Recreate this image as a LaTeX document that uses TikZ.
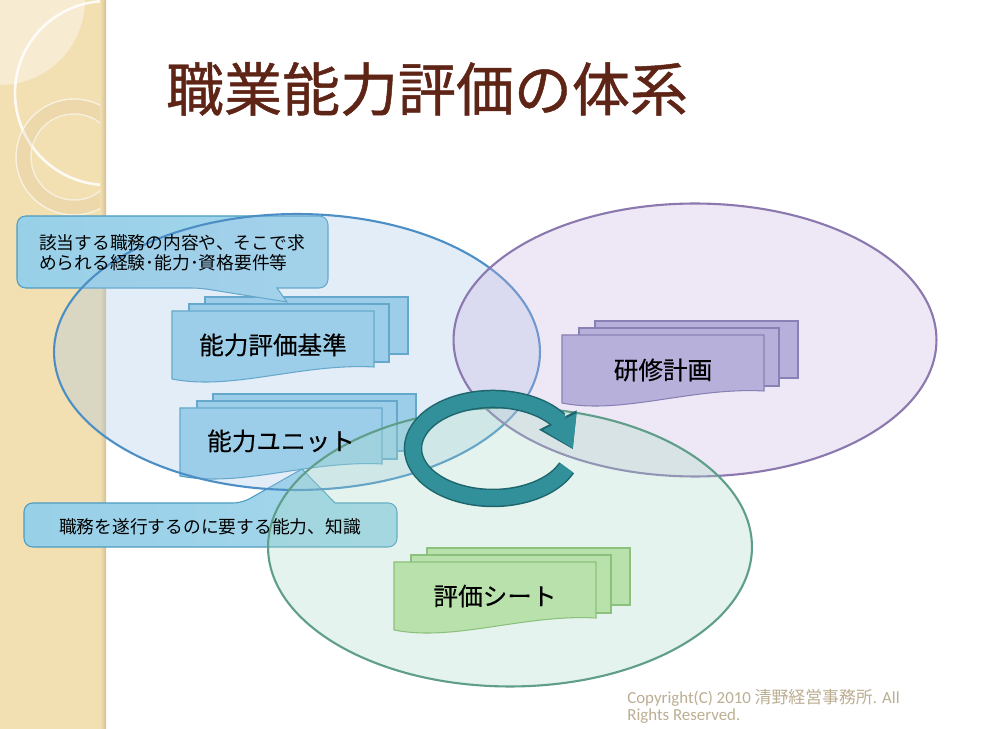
\documentclass[tikz,border=0pt]{standalone}
\usepackage{fontspec}
\setmainfont{Noto Sans CJK JP}
\newfontfamily\titlefont[FakeBold=0.8]{Noto Sans CJK JP}
\newfontfamily\lblfont[FakeBold=0.3]{Noto Sans CJK JP}
\newfontfamily\carlito{Carlito}
\usetikzlibrary{arrows.meta,bending}
\definecolor{stripe}{HTML}{F2DFB2}
\definecolor{stripeLight}{HTML}{F7EBD2}
\definecolor{stripeDark}{HTML}{D6C092}
\definecolor{titleRed}{HTML}{5E2416}
\definecolor{blueFill}{RGB}{162,198,232}
\definecolor{blueLine}{HTML}{4C8FC6}
\definecolor{violetFill}{RGB}{202,178,222}
\definecolor{violetLine}{HTML}{8A78AE}
\definecolor{greenFill}{RGB}{168,218,198}
\definecolor{greenLine}{HTML}{5E9E8A}
\definecolor{blueDoc}{HTML}{9CD2EA}
\definecolor{blueDocEdge}{HTML}{4D9CC0}
\definecolor{violetDoc}{HTML}{B0B0D9}
\definecolor{violetDocEdge}{HTML}{6C6CA4}
\definecolor{greenDoc}{HTML}{C0E5A2}
\definecolor{greenDocEdge}{HTML}{80B65C}
\definecolor{noteL}{HTML}{98D0E8}
\definecolor{noteM}{HTML}{C9E8F4}
\definecolor{noteR}{HTML}{A4D7EC}
\definecolor{cycTeal}{HTML}{31909A}
\definecolor{cycEdge}{HTML}{1E666E}
\definecolor{copyGrey}{HTML}{BCAE92}

\begin{document}
\begin{tikzpicture}
[x=0.02cm,y=-0.02cm,
 ring/.style={line width=1.2pt,fill opacity=0.3},
 pageA/.style={line width=0.6pt,fill=blueDoc,draw=blueDocEdge},
 pageB/.style={line width=0.6pt,fill=violetDoc,draw=violetDocEdge},
 pageC/.style={line width=0.6pt,fill=greenDoc,draw=greenDocEdge},
 frontA/.style={pageA,left color=blueDoc,middle color=blueDoc!70!white,right color=blueDoc},
 frontB/.style={pageB,left color=violetDoc,middle color=violetDoc!65!white,right color=violetDoc},
 frontC/.style={pageC,left color=greenDoc,middle color=greenDoc!70!white,right color=greenDoc},
 lbl/.style={font=\lblfont\fontsize{14}{17}\selectfont},
 note/.style={draw=blueDocEdge,line width=0.6pt,left color=noteL,middle color=noteM,right color=noteR},
 notetext/.style={font=\fontsize{10.1}{11.4}\selectfont,align=left,inner sep=0pt},
 cycedge/.style={draw=cycEdge,line width=0.37cm,-{Triangle[length=0.66cm,width=0.8cm]}},
 cyc/.style={draw=cycTeal,line width=0.31cm,-{Triangle[length=0.6cm,width=0.71cm]}}]
\useasboundingbox (0,0) rectangle (981,729);
\fill[white] (0,0) rectangle (981,729);

\begin{scope}
\clip (0,0) rectangle (106,729);
\fill[stripe] (0,0) rectangle (106,729);
\fill[stripeLight] (0,0) circle [radius=1.7cm];
\draw[white,line width=1.5pt,opacity=0.85] (107,93) circle [radius=1.84cm];
\draw[stripeDark,line width=0.3cm,opacity=0.2] (74,157) circle [radius=1cm];
\draw[white,line width=0.8pt,opacity=0.6] (74,157) circle [radius=1.16cm];
\draw[white,line width=0.8pt,opacity=0.6] (74,157) circle [radius=0.86cm];
\shade[left color=stripe,right color=stripeDark] (100,0) rectangle (106,729);
\end{scope}

\node [text=titleRed,font=\titlefont\fontsize{33}{40}\selectfont] (title) at (427,89) {職業能力評価の体系};

\filldraw [pageA] (205,297) rectangle (408,354);
\filldraw [pageA] (189,304) rectangle (389,362);
\shadedraw [frontA] (172,311) -- (374,311) -- (374,367) .. controls (302,363) and (232,391) .. (172,379) -- cycle;

\filldraw [pageA] (213,394) rectangle (416,451);
\filldraw [pageA] (197,401) rectangle (397,459);
\shadedraw [frontA] (180,408) -- (382,408) -- (382,464) .. controls (310,460) and (240,488) .. (180,476) -- cycle;

\filldraw [pageB] (595,321) rectangle (798,378);
\filldraw [pageB] (579,328) rectangle (779,386);
\shadedraw [frontB] (562,335) -- (764,335) -- (764,391) .. controls (692,387) and (622,415) .. (562,403) -- cycle;

\filldraw [pageC] (427,548) rectangle (630,605);
\filldraw [pageC] (411,555) rectangle (611,613);
\shadedraw [frontC] (394,562) -- (596,562) -- (596,618) .. controls (524,614) and (454,642) .. (394,630) -- cycle;

\shade [note] (200,288) -- (287,302) -- (277,288) [rounded corners=5pt] -- (328,288) -- (328,216) -- (17,216) -- (17,288) -- cycle;
\shade [note] (242,503) -- (302,469) -- (335,503) [rounded corners=5pt] -- (397,503) -- (397,547) -- (24,547) -- (24,503) -- cycle;

\filldraw [ring,fill=blueFill,draw=blueLine] (297,352) ellipse [x radius=4.86cm,y radius=2.76cm];
\filldraw [ring,fill=violetFill,draw=violetLine] (695,340) ellipse [x radius=4.83cm,y radius=2.73cm];
\filldraw [ring,fill=greenFill,draw=greenLine] (510,547) ellipse [x radius=4.84cm,y radius=2.79cm];

\draw [cycedge] (566.6,467.8) arc [start angle=-23,end angle=-361,x radius=1.6cm,y radius=0.99cm];
\draw [cyc] (566.6,467.8) arc [start angle=-23,end angle=-360,x radius=1.6cm,y radius=0.99cm];

\node [lbl] (std) at (273,345) {能力評価基準};
\node [lbl] (unit) at (281,441) {能力ユニット};
\node [lbl] (plan) at (663,370) {研修計画};
\node [lbl] (sheet) at (495,596) {評価シート};

\node [notetext] (needs) at (172,253) {該当する職務の内容や、そこで求\\められる経験･能力･資格要件等};
\node [notetext] (skills) at (210,527) {職務を遂行するのに要する能力、知識};

\node [anchor=north west,inner sep=0pt,align=left,text=copyGrey,font=\carlito\fontsize{9.6}{9.8}\selectfont] (copy) at (627,689) {Copyright(C) 2010 {\rmfamily 清野経営事務所}. All\\Rights Reserved.};
\end{tikzpicture}
\end{document}
